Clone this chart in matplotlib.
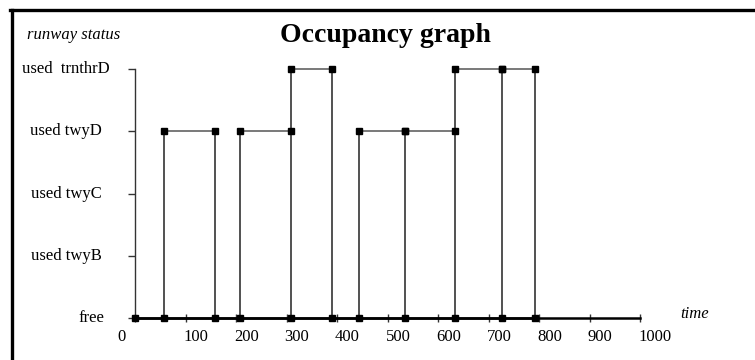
import matplotlib
matplotlib.use("Agg")
import matplotlib.pyplot as plt
from matplotlib.patches import Rectangle

# ---- data ----
status_labels = ["free", "used twyB", "used twyC", "used twyD", "used  trnthrD"]
x_ticks = [0, 100, 200, 300, 400, 500, 600, 700, 800, 900, 1000]
# occupancy segments: start time, end time, status level index
seg_start = [57, 208, 443, 535, 309, 633, 727]
seg_end = [158, 309, 535, 633, 390, 727, 792]
seg_level = [3, 3, 3, 3, 4, 4, 4]
start_time = 0
free_end = 792

W, H = 755, 360
fig = plt.figure(figsize=(W / 100, H / 100), dpi=100)
plt.rcParams['font.family'] = ['Liberation Serif', 'DejaVu Serif']

ax = fig.add_axes([135 / W, (H - 318) / H, 505 / W, 249 / H])
ax.set_xlim(0, 1000)
ax.set_ylim(0, 4)
for s in ["top", "right"]:
    ax.spines[s].set_visible(False)
ax.spines["left"].set_linewidth(1.0)
ax.spines["left"].set_color("#333333")
ax.spines["bottom"].set_linewidth(1.8)
ax.spines["bottom"].set_color("black")

ax.set_xticks(x_ticks)
ax.set_xticklabels([])
ax.tick_params(axis="x", direction="inout", length=6, width=1, color="#333333")
ax.set_yticks(range(len(status_labels)))
ax.set_yticklabels([])
ax.tick_params(axis="y", direction="out", length=5, width=1, color="#333333")

# vertical lines at each segment boundary, from free up to the level
vert_top = {}
for s, e, lv in zip(seg_start, seg_end, seg_level):
    for t in (s, e):
        vert_top[t] = max(vert_top.get(t, 0), lv)
for t, top in vert_top.items():
    ax.plot([t, t], [0, top], color="#222222", lw=1.1, clip_on=False, zorder=2)

# horizontal occupancy segments
for s, e, lv in zip(seg_start, seg_end, seg_level):
    ax.plot([s, e], [lv, lv], color="#555555", lw=1.1, clip_on=False, zorder=2)

# free line
ax.plot([start_time, free_end], [0, 0], color="black", lw=1.8, clip_on=False, zorder=2)

# markers
mx, my = [start_time], [0]
for s, e, lv in zip(seg_start, seg_end, seg_level):
    mx += [s, e]
    my += [lv, lv]
for t in vert_top:
    mx.append(t)
    my.append(0)
ax.plot(mx, my, linestyle="none", marker="s", markersize=4.2, color="black",
        clip_on=False, zorder=3)

# y labels
for i, lab in enumerate(status_labels):
    if lab == "free":
        ax.annotate(lab, xy=(0, i), xycoords=("axes fraction", "data"),
                    xytext=(-31, 0), textcoords="offset pixels",
                    ha="right", va="center", fontsize=12)
    else:
        ax.annotate(lab, xy=(0, i), xycoords=("axes fraction", "data"),
                    xytext=(-69, 0), textcoords="offset pixels",
                    ha="center", va="center", fontsize=12)

# x labels
for t in x_ticks:
    if t == 0:
        ax.annotate(str(t), xy=(t, 0), xycoords=("data", "axes fraction"),
                    xytext=(-13, -19), textcoords="offset pixels",
                    ha="center", va="center", fontsize=12)
    else:
        ax.annotate(str(t), xy=(t, 0), xycoords=("data", "axes fraction"),
                    xytext=(-2, -19), textcoords="offset pixels",
                    ha="left", va="center", fontsize=12)

fig.text(385 / W, 1 - 35 / H, "Occupancy graph", ha="center", va="center",
         fontsize=20, fontweight="bold")
fig.text(27 / W, 1 - 35 / H, "runway status", ha="left", va="center",
         fontsize=12, style="italic")
fig.text(680 / W, 1 - 314 / H, "time", ha="left", va="center",
         fontsize=12, style="italic")

# figure frame (left and top thick lines)
fig.add_artist(plt.Line2D([11.5 / W, 11.5 / W], [0, 1 - 9.5 / H],
                          transform=fig.transFigure, color="black", lw=2.4))
fig.add_artist(plt.Line2D([10.3 / W, 1], [1 - 9.5 / H, 1 - 9.5 / H],
                          transform=fig.transFigure, color="black", lw=2.4))

fig.savefig("out.png", dpi=100)
